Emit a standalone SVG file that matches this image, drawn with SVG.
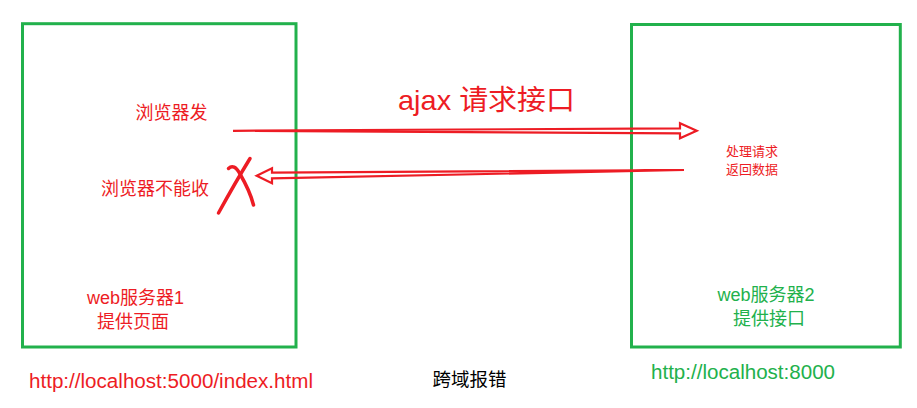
<svg xmlns="http://www.w3.org/2000/svg" width="917" height="408" viewBox="0 0 917 408">
<style>
.box{fill:none;stroke:#22b14c;stroke-width:3}
.t{font-family:"Liberation Sans","Noto Sans CJK SC",sans-serif}
.red{fill:#ed1c24}
.green{fill:#22b14c}
.arr{fill:none;stroke:#ed1c24;stroke-width:2.2;stroke-linejoin:miter}
.pen{fill:none;stroke:#ed1c24;stroke-width:3.5;stroke-linecap:round}
</style>
<rect width="917" height="408" fill="#ffffff"/>
<g id="server1">
<rect class="box" x="22.5" y="23.7" width="273.5" height="323.3"/>
<text class="t red" x="135.5" y="119" font-size="18">浏览器发</text>
<text class="t red" x="101" y="195" font-size="18">浏览器不能收</text>
<text class="t red" x="87" y="304" font-size="18">web服务器1</text>
<text class="t red" x="97" y="327.5" font-size="18">提供页面</text>
</g>
<g id="server2">
<rect class="box" x="631.5" y="24.5" width="268.8" height="322.5"/>
<text class="t red" x="726" y="156" font-size="13">处理请求</text>
<text class="t red" x="726" y="173.5" font-size="13">返回数据</text>
<text class="t green" x="717.5" y="301" font-size="18">web服务器2</text>
<text class="t green" x="733" y="325" font-size="18">提供接口</text>
</g>
<g id="labels">
<text class="t red" x="398" y="110" font-size="28.5" textLength="177" lengthAdjust="spacingAndGlyphs">ajax 请求接口</text>
<text class="t red" x="29" y="387.5" font-size="20" textLength="284" lengthAdjust="spacingAndGlyphs">http://localhost:5000/index.html</text>
<text class="t" x="432.5" y="386" font-size="18.5" fill="#000000">跨域报错</text>
<text class="t green" x="651" y="379" font-size="20" textLength="184" lengthAdjust="spacingAndGlyphs">http://localhost:8000</text>
</g>
<g id="connectors">
<path class="arr" d="M233,130.8 L680,128.3 L680,123.3 L696.7,130.7 L680,138.3 L680,133.3 Z"/>
<path class="arr" d="M684,170 L272,172.7 L272,168.3 L256.7,175.7 L272,183.3 L272,178.3 Z"/>
<path class="pen" d="M250,158.5 Q235,183 218.5,213"/>
<path class="pen" d="M228.5,168.5 Q234,163 240,174 Q250,191 253.5,205"/>
</g>
</svg>
